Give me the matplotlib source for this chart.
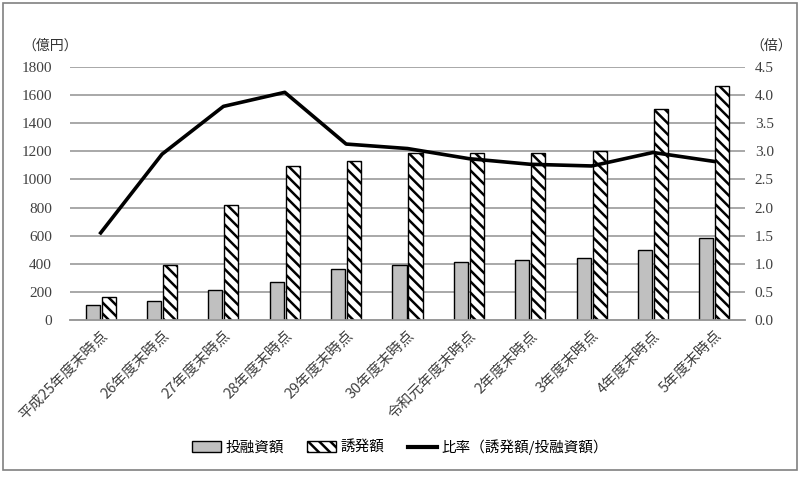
import matplotlib
matplotlib.use("Agg")
import numpy as np
import matplotlib.pyplot as plt
from matplotlib.patches import Rectangle, Patch
from matplotlib.lines import Line2D

# data
categories = ["平成25年度末時点", "26年度末時点", "27年度末時点", "28年度末時点",
              "29年度末時点", "30年度末時点", "令和元年度末時点", "2年度末時点",
              "3年度末時点", "4年度末時点", "5年度末時点"]
toyushi = [105, 136, 214, 271, 362, 390, 412, 429, 438, 500, 586]      # 投融資額 (億円)
yuhatsu = [164, 390, 819, 1095, 1129, 1188, 1190, 1190, 1200, 1500, 1662]  # 誘発額 (億円)
ratio = [1.55, 2.95, 3.80, 4.05, 3.13, 3.05, 2.87, 2.77, 2.74, 2.98, 2.82]  # 比率 (倍)

left_ticks = [0, 200, 400, 600, 800, 1000, 1200, 1400, 1600, 1800]
right_ticks = [0.0, 0.5, 1.0, 1.5, 2.0, 2.5, 3.0, 3.5, 4.0, 4.5]

jp = ["Noto Sans CJK JP", "DejaVu Sans"]
plt.rcParams['font.family'] = jp
plt.rcParams['hatch.linewidth'] = 1.8

fig = plt.figure(figsize=(8, 4.78), dpi=100)
ax = fig.add_axes([0.0875, 0.3305, 0.8438, 0.5293])
ax2 = ax.twinx()

x = np.arange(len(categories))
w = 0.23
ax.bar(x - 0.13, toyushi, w, color="#c0c0c0", edgecolor="black", linewidth=1.0, zorder=3)
ax.bar(x + 0.13, yuhatsu, w, color="white", edgecolor="black", linewidth=1.0,
       hatch="\\\\\\", zorder=3)
ax2.plot(x, ratio, color="black", linewidth=2.6, zorder=4)

ax.set_xlim(-0.5, len(categories) - 0.5)
ax.set_ylim(0, 1800)
ax2.set_ylim(0, 4.5)
ax.set_yticks(left_ticks)
ax2.set_yticks(right_ticks)
ax.yaxis.grid(True, color="#9a9a9a", linewidth=1.2, zorder=0)
ax.set_axisbelow(True)

ax.set_xticks(x)
ax.set_xticklabels(categories, rotation=45, ha="right", rotation_mode="anchor",
                   fontsize=10.5, color="#404040")
ax.tick_params(axis="x", length=0, pad=6)
ax.tick_params(axis="y", length=0, pad=13)
ax2.tick_params(axis="y", length=0, pad=7)
ax.set_yticklabels([str(t) for t in left_ticks], fontdict={"family": "Liberation Serif", "size": 11},
                   color="#404040")
ax2.set_yticklabels([f"{t:.1f}" for t in right_ticks], fontdict={"family": "Liberation Serif", "size": 11},
                    color="#404040")

for a in (ax, ax2):
    for s in ("left", "right", "top"):
        a.spines[s].set_visible(False)
    a.spines["bottom"].set_color("#9a9a9a")
    a.spines["bottom"].set_linewidth(1.2)

fig.text(22 / 800, 1 - 46 / 478, "（億円）", fontsize=10, va="center", ha="left", color="#333333")
fig.text(750 / 800, 1 - 46 / 478, "（倍）", fontsize=10, va="center", ha="left", color="#333333")

handles = [Patch(facecolor="#c0c0c0", edgecolor="black", linewidth=1.0),
           Patch(facecolor="white", edgecolor="black", linewidth=1.0, hatch="\\\\\\"),
           Line2D([0], [0], color="black", linewidth=3)]
labels = ["投融資額", "誘発額", "比率（誘発額/投融資額）"]
fig.legend(handles, labels, loc="center", bbox_to_anchor=(0.5, 1 - 447 / 478), ncol=3,
           frameon=False, fontsize=10.5, handlelength=2.0, handleheight=0.8,
           handletextpad=0.3, columnspacing=1.6)

fig.patches.append(Rectangle((3 / 800, 8 / 478), 794 / 800, 467 / 478, transform=fig.transFigure,
                             fill=False, edgecolor="#808080", linewidth=1.2))

fig.savefig("out.png", dpi=100)
